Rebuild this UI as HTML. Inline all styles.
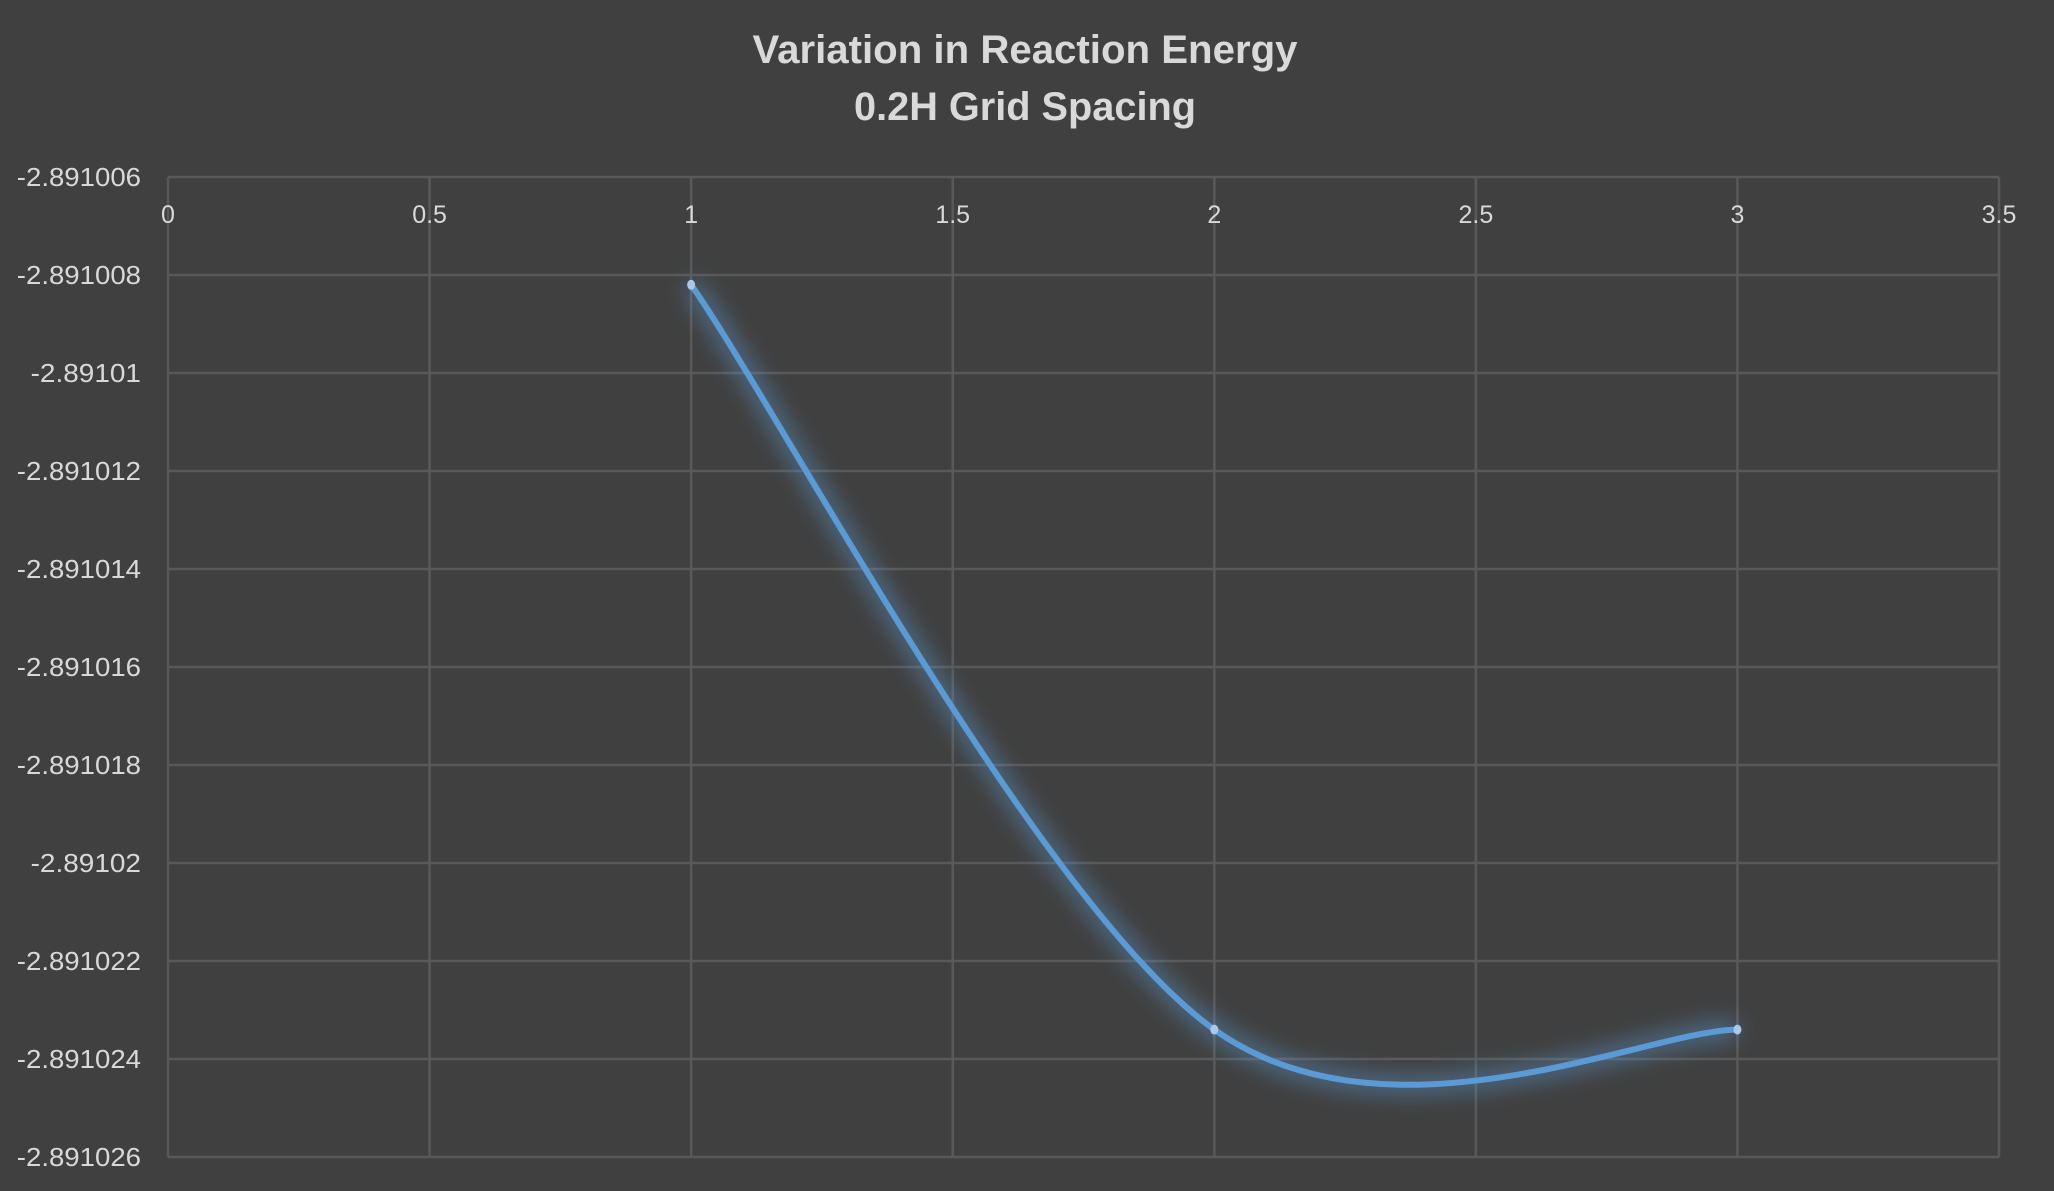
<!DOCTYPE html>
<html><head><meta charset="utf-8"><style>
html,body{margin:0;padding:0;background:#404040;}
svg{display:block;}
text{font-family:"Liberation Sans",sans-serif;}
</style></head><body>
<svg id="chart" width="2054" height="1191" viewBox="0 0 2054 1191">
<defs>
<filter id="glow" x="-20%" y="-20%" width="140%" height="140%"><feGaussianBlur stdDeviation="11"/></filter>
</defs>
<rect width="2054" height="1191" fill="#404040"/>
<text x="1025" y="63" text-anchor="middle" font-size="40" font-weight="bold" fill="#d9d9d9" textLength="545" lengthAdjust="spacingAndGlyphs">Variation in Reaction Energy</text>
<text x="1025" y="120" text-anchor="middle" font-size="40" font-weight="bold" fill="#d9d9d9" textLength="342" lengthAdjust="spacingAndGlyphs">0.2H Grid Spacing</text>
<g id="grid"></g>
<g id="series"></g>
</svg>
<script>
const xTicks=[0,0.5,1,1.5,2,2.5,3,3.5];
const yTicks=[-2.891006,-2.891008,-2.89101,-2.891012,-2.891014,-2.891016,-2.891018,-2.89102,-2.891022,-2.891024,-2.891026];
const xValues=[1,2,3];
const yValues=[-2.8910082,-2.8910234,-2.8910234];
const L=168,R=1999,T=177,B=1157;
const xMin=0,xMax=3.5,yMax=-2.891006,yMin=-2.891026;
const sx=v=>L+(v-xMin)/(xMax-xMin)*(R-L);
const sy=v=>T+(yMax-v)/(yMax-yMin)*(B-T);
const NS='http://www.w3.org/2000/svg';
const g=document.getElementById('grid');
function mk(tag,attrs,parent){const e=document.createElementNS(NS,tag);for(const k in attrs)e.setAttribute(k,attrs[k]);parent.appendChild(e);return e;}
xTicks.forEach(v=>{
 const l=mk('line',{x1:sx(v),x2:sx(v),y1:T,y2:B,stroke:'#595959','stroke-width':2.5},g);
 
 
 const t=mk('text',{x:sx(v),y:223,'text-anchor':'middle','font-size':25,fill:'#d9d9d9'},g);
 t.textContent=String(v);
 
 
});
yTicks.forEach(v=>{
 const l=mk('line',{x1:L,x2:R,y1:sy(v),y2:sy(v),stroke:'#595959','stroke-width':2.5},g);
 
 
 const s=String(v);
 const t=mk('text',{x:141,y:sy(v)+9,'text-anchor':'end','font-size':26,fill:'#d9d9d9',textLength:s.length*13.8,lengthAdjust:'spacingAndGlyphs'},g);
 t.textContent=s;
 
 
});
const s=document.getElementById('series');
const P=xValues.map((x,i)=>[sx(x),sy(yValues[i])]);
let d='M'+P[0][0]+','+P[0][1];
for(let i=0;i<P.length-1;i++){
 const p0=P[Math.max(i-1,0)],p1=P[i],p2=P[i+1],p3=P[Math.min(i+2,P.length-1)];
 const c1=[p1[0]+(p2[0]-p0[0])/6,p1[1]+(p2[1]-p0[1])/6];
 const c2=[p2[0]-(p3[0]-p1[0])/6,p2[1]-(p3[1]-p1[1])/6];
 d+=` C${c1[0]},${c1[1]} ${c2[0]},${c2[1]} ${p2[0]},${p2[1]}`;
}
const gl=mk('path',{d:d,fill:'none',stroke:'#5b9bd5','stroke-width':18,'stroke-opacity':0.5,filter:'url(#glow)'},s);


const ln=mk('path',{d:d,fill:'none',stroke:'#5b9bd5','stroke-width':6,'stroke-linecap':'round'},s);


P.forEach(p=>{
 const c=mk('ellipse',{cx:p[0],cy:p[1],rx:4,ry:5,fill:'#a9c8ea'},s);
 
 
});
</script>
</body></html>
